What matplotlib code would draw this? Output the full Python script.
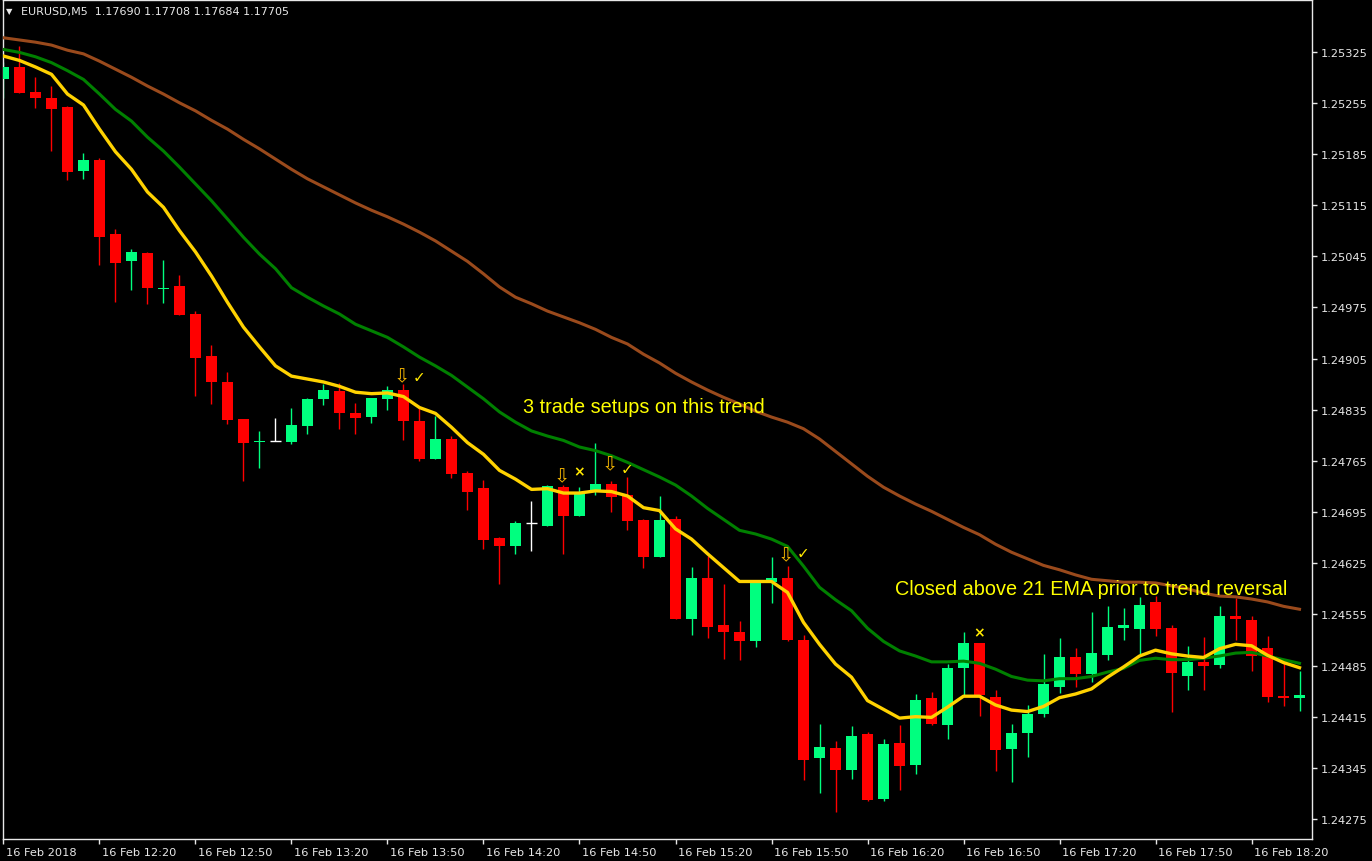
"""EURUSD M5 candlestick chart with three EMAs and trade setup marks (MT4 style)"""
import numpy as np
import matplotlib
matplotlib.use('Agg')
from matplotlib import pyplot as plt
from matplotlib.transforms import ScaledTranslation

# OHLC, one entry per 5 minute bar starting 16 Feb 11:50
opens = [
    1.25288, 1.25304, 1.25270, 1.25261, 1.25249, 1.25162, 1.25177, 1.25075, 1.25038, 1.25049,
    1.25000, 1.25004, 1.24966, 1.24908, 1.24873, 1.24822, 1.24791, 1.24792, 1.24791, 1.24813,
    1.24850, 1.24861, 1.24830, 1.24825, 1.24850, 1.24862, 1.24820, 1.24768, 1.24795, 1.24748,
    1.24728, 1.24659, 1.24648, 1.24680, 1.24676, 1.24729, 1.24689, 1.24722, 1.24733, 1.24718,
    1.24684, 1.24634, 1.24685, 1.24549, 1.24605, 1.24541, 1.24531, 1.24519, 1.24599, 1.24605,
    1.24520, 1.24359, 1.24372, 1.24342, 1.24391, 1.24303, 1.24379, 1.24349, 1.24440, 1.24404,
    1.24481, 1.24516, 1.24442, 1.24371, 1.24393, 1.24418, 1.24455, 1.24497, 1.24474, 1.24500,
    1.24536, 1.24535, 1.24572, 1.24536, 1.24471, 1.24490, 1.24486, 1.24553, 1.24547, 1.24509,
    1.24443, 1.24440]
highs = [
    1.25311, 1.25333, 1.25290, 1.25278, 1.25250, 1.25186, 1.25179, 1.25082, 1.25055, 1.25051,
    1.25040, 1.25019, 1.24970, 1.24924, 1.24887, 1.24822, 1.24806, 1.24824, 1.24837, 1.24851,
    1.24870, 1.24872, 1.24844, 1.24851, 1.24867, 1.24870, 1.24840, 1.24826, 1.24799, 1.24751,
    1.24739, 1.24661, 1.24683, 1.24710, 1.24732, 1.24732, 1.24729, 1.24789, 1.24738, 1.24743,
    1.24686, 1.24717, 1.24690, 1.24620, 1.24635, 1.24597, 1.24546, 1.24599, 1.24633, 1.24621,
    1.24527, 1.24405, 1.24382, 1.24402, 1.24394, 1.24384, 1.24404, 1.24446, 1.24449, 1.24487,
    1.24531, 1.24516, 1.24451, 1.24405, 1.24431, 1.24501, 1.24523, 1.24509, 1.24558, 1.24566,
    1.24564, 1.24579, 1.24580, 1.24540, 1.24512, 1.24524, 1.24566, 1.24577, 1.24553, 1.24525,
    1.24489, 1.24478]
lows = [
    1.25262, 1.25269, 1.25248, 1.25189, 1.25150, 1.25151, 1.25033, 1.24982, 1.24999, 1.24980,
    1.24981, 1.24965, 1.24854, 1.24843, 1.24816, 1.24737, 1.24755, 1.24792, 1.24788, 1.24802,
    1.24842, 1.24809, 1.24802, 1.24817, 1.24835, 1.24794, 1.24765, 1.24767, 1.24741, 1.24698,
    1.24645, 1.24597, 1.24637, 1.24642, 1.24676, 1.24638, 1.24689, 1.24718, 1.24695, 1.24671,
    1.24619, 1.24634, 1.24548, 1.24527, 1.24522, 1.24494, 1.24492, 1.24511, 1.24571, 1.24518,
    1.24328, 1.24310, 1.24284, 1.24330, 1.24299, 1.24300, 1.24314, 1.24337, 1.24403, 1.24385,
    1.24444, 1.24416, 1.24340, 1.24325, 1.24360, 1.24415, 1.24448, 1.24455, 1.24463, 1.24493,
    1.24520, 1.24501, 1.24526, 1.24422, 1.24452, 1.24452, 1.24481, 1.24520, 1.24478, 1.24435,
    1.24429, 1.24423]
closes = [
    1.25304, 1.25269, 1.25261, 1.25247, 1.25161, 1.25177, 1.25072, 1.25036, 1.25051, 1.25001,
    1.25002, 1.24965, 1.24906, 1.24873, 1.24821, 1.24790, 1.24792, 1.24792, 1.24814, 1.24850,
    1.24862, 1.24830, 1.24824, 1.24851, 1.24862, 1.24819, 1.24768, 1.24795, 1.24747, 1.24723,
    1.24657, 1.24648, 1.24680, 1.24680, 1.24731, 1.24690, 1.24722, 1.24733, 1.24716, 1.24683,
    1.24634, 1.24684, 1.24549, 1.24605, 1.24538, 1.24531, 1.24519, 1.24599, 1.24605, 1.24520,
    1.24356, 1.24373, 1.24342, 1.24389, 1.24301, 1.24378, 1.24348, 1.24438, 1.24405, 1.24482,
    1.24516, 1.24445, 1.24370, 1.24393, 1.24419, 1.24460, 1.24497, 1.24474, 1.24502, 1.24538,
    1.24540, 1.24568, 1.24535, 1.24475, 1.24490, 1.24485, 1.24553, 1.24548, 1.24498, 1.24442,
    1.24440, 1.24445]

# moving averages, one value per bar
ema_fast = [
    1.25319, 1.25313, 1.25304, 1.25294, 1.25267, 1.25252, 1.25219, 1.25188, 1.25164, 1.25133,
    1.25112, 1.25080, 1.25051, 1.25018, 1.24982, 1.24948, 1.24921, 1.24895, 1.24881, 1.24877,
    1.24873, 1.24867, 1.24859, 1.24857, 1.24858, 1.24853, 1.24838, 1.24830, 1.24811, 1.24790,
    1.24774, 1.24752, 1.24740, 1.24726, 1.24727, 1.24721, 1.24721, 1.24724, 1.24723, 1.24717,
    1.24701, 1.24697, 1.24672, 1.24658, 1.24638, 1.24619, 1.24600, 1.24600, 1.24600, 1.24585,
    1.24544, 1.24514, 1.24487, 1.24469, 1.24437, 1.24425, 1.24413, 1.24415, 1.24414, 1.24428,
    1.24443, 1.24443, 1.24431, 1.24424, 1.24422, 1.24429, 1.24441, 1.24446, 1.24453, 1.24469,
    1.24483, 1.24498, 1.24506, 1.24501, 1.24498, 1.24496, 1.24508, 1.24514, 1.24512, 1.24499,
    1.24489, 1.24482]
ema_mid = [
    1.25328, 1.25324, 1.25318, 1.25310, 1.25299, 1.25287, 1.25267, 1.25246, 1.25230, 1.25208,
    1.25189, 1.25167, 1.25144, 1.25121, 1.25096, 1.25071, 1.25048, 1.25028, 1.25002, 1.24989,
    1.24977, 1.24966, 1.24952, 1.24943, 1.24934, 1.24921, 1.24907, 1.24895, 1.24882, 1.24866,
    1.24850, 1.24832, 1.24818, 1.24806, 1.24799, 1.24793, 1.24784, 1.24779, 1.24772, 1.24763,
    1.24753, 1.24743, 1.24732, 1.24717, 1.24700, 1.24685, 1.24670, 1.24665, 1.24658, 1.24648,
    1.24621, 1.24592, 1.24575, 1.24560, 1.24536, 1.24518, 1.24505, 1.24498, 1.24490, 1.24490,
    1.24491, 1.24488, 1.24480, 1.24470, 1.24465, 1.24464, 1.24467, 1.24467, 1.24470, 1.24476,
    1.24481, 1.24492, 1.24495, 1.24493, 1.24493, 1.24495, 1.24498, 1.24502, 1.24503, 1.24498,
    1.24493, 1.24488]
ema_slow = [
    1.25344, 1.25341, 1.25338, 1.25334, 1.25327, 1.25322, 1.25312, 1.25301, 1.25290, 1.25278,
    1.25267, 1.25255, 1.25244, 1.25231, 1.25219, 1.25205, 1.25192, 1.25178, 1.25164, 1.25151,
    1.25140, 1.25129, 1.25118, 1.25108, 1.25099, 1.25089, 1.25078, 1.25066, 1.25052, 1.25038,
    1.25021, 1.25003, 1.24989, 1.24980, 1.24970, 1.24962, 1.24954, 1.24945, 1.24934, 1.24925,
    1.24911, 1.24899, 1.24885, 1.24873, 1.24862, 1.24852, 1.24843, 1.24833, 1.24825, 1.24818,
    1.24809, 1.24795, 1.24778, 1.24761, 1.24744, 1.24729, 1.24717, 1.24706, 1.24696, 1.24685,
    1.24674, 1.24664, 1.24651, 1.24640, 1.24631, 1.24622, 1.24616, 1.24609, 1.24603, 1.24601,
    1.24599, 1.24599, 1.24598, 1.24594, 1.24590, 1.24584, 1.24580, 1.24579, 1.24576, 1.24572,
    1.24566, 1.24562]

time_labels = ['16 Feb 2018', '16 Feb 12:20', '16 Feb 12:50', '16 Feb 13:20', '16 Feb 13:50',
               '16 Feb 14:20', '16 Feb 14:50', '16 Feb 15:20', '16 Feb 15:50', '16 Feb 16:20',
               '16 Feb 16:50', '16 Feb 17:20', '16 Feb 17:50', '16 Feb 18:20']
price_ticks = [1.24275, 1.24345, 1.24415, 1.24485, 1.24555, 1.24625, 1.24695, 1.24765,
               1.24835, 1.24905, 1.24975, 1.25045, 1.25115, 1.25185, 1.25255, 1.25325]

# signal marks: (bar, price, symbol)
signals = [(25, 1.24881, 'arrow'), (26, 1.24880, 'check'),
           (35, 1.24744, 'arrow'), (36, 1.24751, 'cross'),
           (38, 1.24761, 'arrow'), (39, 1.24755, 'check'),
           (49, 1.24636, 'arrow'), (50, 1.24640, 'check'),
           (61, 1.24530, 'cross')]

BULL = '#00FF7F'
BEAR = '#FF0000'
DOJI = '#FFFFFF'
FG = '#E8E8E8'

fig = plt.figure(figsize=(13.72, 8.62), dpi=100, facecolor='black')
ax = fig.add_axes([3 / 1372., 22 / 862., 1309 / 1372., 839 / 862.], facecolor='black')

o, h, l, c = (np.array(v) for v in (opens, highs, lows, closes))
idx = np.arange(len(o))
colors = np.where(c > o, BULL, np.where(c < o, BEAR, DOJI))
w = 0.69

ax.vlines(idx, l, h, colors=colors, lw=1, zorder=2)
ax.bar(idx, np.abs(c - o), bottom=np.minimum(o, c), width=w, color=colors,
       linewidth=0, zorder=3)
flat = c == o
ax.hlines(c[flat], idx[flat] - w / 2, idx[flat] + w / 2, colors=DOJI, lw=1, zorder=3)

ax.plot(idx, ema_slow, color='#9A4A1C', lw=2.2, zorder=4)
ax.plot(idx, ema_mid, color='#008000', lw=2.2, zorder=5)
ax.plot(idx, ema_fast, color='#FFD200', lw=2.4, zorder=6)

for bar, price, kind in signals:
    if kind == 'arrow':
        ax.text(bar - 0.1, price, '\u21e9', color='#F2B400', fontsize=14,
                ha='center', va='center', zorder=7)
    elif kind == 'check':
        ax.text(bar - 0.05, price, '\u2713', color='#FFE800', fontsize=11,
                ha='center', va='center', zorder=7)
    else:
        ax.text(bar, price, '\u00d7', color='#FFE800', fontsize=10, fontweight='bold',
                ha='center', va='center', zorder=7)

ax.text(32.47, 1.24839, '3 trade setups on this trend', color='#FFFF00',
        fontsize=14.3, family='Liberation Sans', va='center', ha='left', zorder=8)
ax.text(55.72, 1.24590, 'Closed above 21 EMA prior to trend reversal', color='#FFFF00',
        fontsize=14.3, family='Liberation Sans', va='center', ha='left', zorder=8)

ax.set_xlim(-0.03, 81.78)
ax.set_ylim(1.242476, 1.253957)

ax.yaxis.tick_right()
ax.set_yticks(price_ticks)
ax.set_yticklabels(['%.5f' % p for p in price_ticks])
ax.set_xticks(np.arange(0, 6 * len(time_labels), 6))
ax.set_xticklabels(time_labels)
ax.tick_params(colors=FG, labelcolor=FG, labelsize=8.2, length=3.5, width=1, pad=2.5)
offset = ScaledTranslation(2 / 72., 0, fig.dpi_scale_trans)
for lab in ax.get_xticklabels():
    lab.set_ha('left')
    lab.set_transform(lab.get_transform() + offset)

for side in ('left', 'right', 'bottom', 'top'):
    ax.spines[side].set_color(FG)
    ax.spines[side].set_linewidth(1)

fig.text(6 / 1372., 1 - 12 / 862., '\u25bc', color=FG, fontsize=6, va='center', ha='left')
fig.text(21 / 1372., 1 - 12 / 862., 'EURUSD,M5  1.17690 1.17708 1.17684 1.17705',
         color=FG, fontsize=8, va='center', ha='left')

fig.savefig('out.png', dpi=100, facecolor='black')
